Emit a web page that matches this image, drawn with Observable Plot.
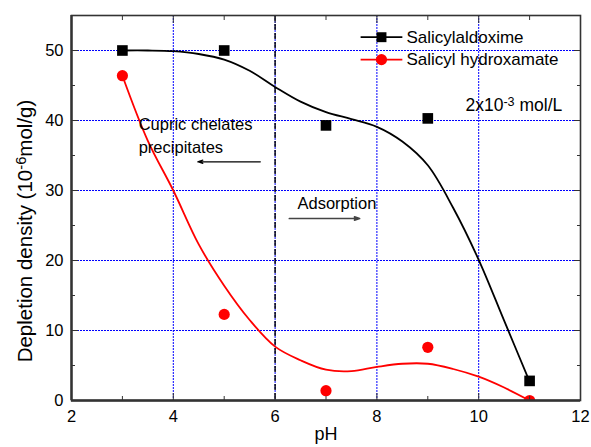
<!DOCTYPE html>
<html><head><meta charset="utf-8">
<script src="https://cdn.jsdelivr.net/npm/d3@7"></script>
<script src="https://cdn.jsdelivr.net/npm/@observablehq/plot@0.6"></script>
<style>
html,body{margin:0;padding:0;background:#fff;}
#chart{width:591px;height:447px;}
</style></head><body><div id="chart"></div>
<script>
// ---- data ----
const pH = [3, 5, 7, 9, 11];
const aldoxime = [50.0, 50.0, 39.3, 40.3, 2.8];
const hydroxamate = [46.4, 12.3, 1.4, 7.6, 0.0];

// smooth fitted curves
const aldoximeCurveX = [3, 3.5, 4, 4.5, 5, 5.5, 6, 6.5, 7, 7.5, 8, 8.5, 9, 9.5, 10, 10.5, 11];
const aldoximeCurveY = [50.0, 50.0, 49.9, 49.5, 48.7, 47.1, 44.8, 42.7, 41.2, 40.2, 39.1, 37.0, 33.6, 27.5, 20.1, 11.4, 2.7];
const hydroxCurveX = [3, 3.5, 4, 4.5, 5, 5.5, 6, 6.5, 7, 7.5, 8, 8.5, 9, 9.5, 10, 10.5, 11];
const hydroxCurveY = [46.4, 37.1, 30.0, 22.3, 16.4, 11.5, 7.7, 5.75, 4.4, 4.2, 4.8, 5.25, 5.25, 4.5, 3.4, 1.85, 0.0];

const seriesNames = ["Salicylaldoxime", "Salicyl hydroxamate"];
const seriesColors = ["#000000", "#ff0000"];
const seriesSymbols = ["square", "circle"];

const xTicks = [2, 4, 6, 8, 10, 12];
const xMinorTicks = [3, 5, 7, 9, 11];
const yTicks = [0, 10, 20, 30, 40, 50];
const yMinorTicks = [5, 15, 25, 35, 45];
const xGrid = [4, 6, 8, 10];
const yGrid = [10, 20, 30, 40, 50];
const boundaryPH = [6];

const xTitle = "pH";
const yTitle = "Depletion density (10{-6}mol/g)";

const noteTexts = ["Cupric chelates\nprecipitates", "Adsorption", "2x10{-3} mol/L"];
const noteX = [3.32, 6.44, 9.74];
const noteY = [38.0, 28.4, 42.4];
const noteSizes = [16.5, 16.5, 17.5];

const arrowX1 = [5.71, 6.28];
const arrowX2 = [4.48, 7.66];
const arrowY = [34.1, 26.0];
const arrowColors = ["#000000", "#444444"];
const arrowWidths = [1.2, 1.7];

const legendLineX1 = 7.68, legendLineX2 = 8.50, legendSymX = 8.09, legendTextX = 8.58;
const legendY = [51.9, 48.7];

// ---- build tables ----
const pts = pH.map((x, i) => ({x, a: aldoxime[i], h: hydroxamate[i]}));
const curveA = aldoximeCurveX.map((x, i) => ({x, y: aldoximeCurveY[i]}));
const curveH = hydroxCurveX.map((x, i) => ({x, y: hydroxCurveY[i]}));
const notes = noteTexts.map((t, i) => ({t, x: noteX[i], y: noteY[i], s: noteSizes[i]}));
const arrows = arrowX1.map((x1, i) => ({x1, x2: arrowX2[i], y: arrowY[i], c: arrowColors[i], w: arrowWidths[i]}));
const legend = seriesNames.map((n, i) => ({n, c: seriesColors[i], s: seriesSymbols[i], y: legendY[i]}));

const axisColor = "#333333";
const gridStyle = {stroke: "#0000ff", strokeOpacity: 1, strokeWidth: 1, strokeDasharray: "2,1"};
const empty = () => "";

const chart = Plot.plot({
  width: 591, height: 447,
  marginLeft: 71, marginRight: 11, marginTop: 15, marginBottom: 47,
  style: {fontFamily: "'Liberation Sans', Arial, Helvetica, sans-serif", fontSize: "16.5px", color: "#000", background: "#fff"},
  x: {domain: [2, 12], label: null},
  y: {domain: [0, 55], label: null},
  marks: [
    Plot.ruleX(xGrid, {...gridStyle}),
    Plot.ruleY(yGrid, {...gridStyle}),
    Plot.ruleX(boundaryPH, {stroke: "#000", strokeWidth: 1.4, strokeDasharray: "6,3"}),

    Plot.line(curveA, {x: "x", y: "y", curve: "catmull-rom", stroke: seriesColors[0], strokeWidth: 1.8}),
    Plot.line(curveH, {x: "x", y: "y", curve: "catmull-rom", stroke: seriesColors[1], strokeWidth: 1.8, clip: true}),
    Plot.dot(pts, {x: "x", y: "a", symbol: "square", r: 6, fill: seriesColors[0], stroke: "none"}),
    Plot.dot(pts, {x: "x", y: "h", symbol: "circle", r: 5.6, fill: seriesColors[1], stroke: "none", clip: true}),

    // frame
    Plot.frame({stroke: axisColor, strokeWidth: 1.6}),
    Plot.ruleX([2], {stroke: axisColor, strokeWidth: 2.4}),
    Plot.ruleY([0], {stroke: axisColor, strokeWidth: 2.4}),

    // tick labels
    Plot.axisX(xTicks, {anchor: "bottom", tickSize: 0, tickPadding: 10, fontSize: 16.5, label: null}),
    Plot.axisY(yTicks, {anchor: "left", tickSize: 0, tickPadding: 8, fontSize: 16.5, label: null}),
    // inward ticks
    Plot.axisX(xTicks, {anchor: "bottom", tickSize: -7, tickFormat: empty, stroke: axisColor, label: null}),
    Plot.axisX(xMinorTicks, {anchor: "bottom", tickSize: -4, tickFormat: empty, stroke: axisColor, label: null}),
    Plot.axisX(xTicks, {anchor: "top", tickSize: -7, tickFormat: empty, stroke: axisColor, label: null}),
    Plot.axisX(xMinorTicks, {anchor: "top", tickSize: -4, tickFormat: empty, stroke: axisColor, label: null}),
    Plot.axisY(yTicks, {anchor: "left", tickSize: -7, tickFormat: empty, stroke: axisColor, label: null}),
    Plot.axisY(yMinorTicks, {anchor: "left", tickSize: -4, tickFormat: empty, stroke: axisColor, label: null}),
    Plot.axisY(yTicks, {anchor: "right", tickSize: -7, tickFormat: empty, stroke: axisColor, label: null}),
    Plot.axisY(yMinorTicks, {anchor: "right", tickSize: -4, tickFormat: empty, stroke: axisColor, label: null}),

    // axis titles
    Plot.text([xTitle], {text: d => d, frameAnchor: "bottom", textAnchor: "middle", lineAnchor: "middle", dy: 34, fontSize: 18}),
    Plot.text([yTitle], {text: d => d, frameAnchor: "left", textAnchor: "middle", lineAnchor: "middle", rotate: -90, dx: -46, dy: 23, fontSize: 20.5}),

    // annotations
    Plot.text(notes, {x: "x", y: "y", text: "t", textAnchor: "start", lineHeight: 1.37, fontSize: "s"}),
    Plot.arrow(arrows, {x1: "x1", x2: "x2", y1: "y", y2: "y", stroke: "c", strokeWidth: "w", headLength: 8, headAngle: 35}),

    // legend
    Plot.link(legend, {x1: () => legendLineX1, x2: () => legendLineX2, y1: "y", y2: "y", stroke: "c", strokeWidth: 1.8}),
    Plot.dot(legend, {x: () => legendSymX, y: "y", symbol: "s", r: 5.6, fill: "c", stroke: "none"}),
    Plot.text(legend, {x: () => legendTextX, y: "y", text: "n", textAnchor: "start", fontSize: 17})
  ]
});

// superscripts: turn "{...}" into raised tspans
d3.select(chart).selectAll("text").each(function () {
  const t = this.textContent;
  if (!t || t.indexOf("{") < 0 || this.querySelector("tspan")) return;
  const parts = t.split(/(\{[^}]*\})/).filter(p => p.length);
  const sel = d3.select(this);
  sel.text(null);
  let raised = false;
  parts.forEach(p => {
    if (p[0] === "{") {
      sel.append("tspan").attr("dy", "-0.42em").attr("font-size", "0.72em").text(p.slice(1, -1));
      raised = true;
    } else {
      const ts = sel.append("tspan").text(p);
      if (raised) { ts.attr("dy", "0.3em"); raised = false; }
    }
  });
});

document.getElementById("chart").appendChild(chart);
</script>
</body></html>
